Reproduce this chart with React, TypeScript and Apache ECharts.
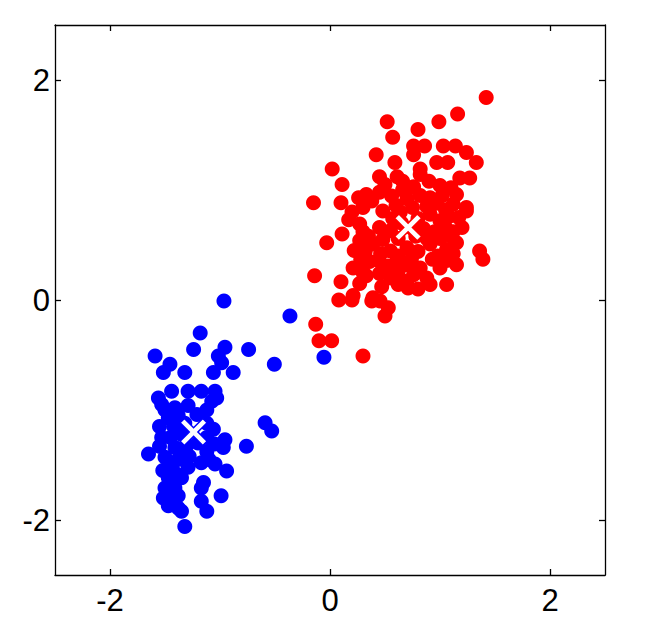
import React, { useEffect, useRef } from "react";
import * as echarts from "echarts";

const redPoints: [number, number][] = [
  [1.42, 1.84], [1.16, 1.69], [0.99, 1.62], [0.52, 1.62], [0.8, 1.55], [0.57, 1.48],
  [0.76, 1.4], [0.86, 1.4], [1.03, 1.4], [1.14, 1.4], [0.42, 1.32], [0.76, 1.32],
  [1.24, 1.34], [0.59, 1.25], [0.82, 1.19], [0.97, 1.25], [1.07, 1.25], [1.33, 1.25],
  [0.02, 1.19], [0.45, 1.12], [0.61, 1.12], [0.11, 1.05], [0.76, 1.03], [1.18, 1.11],
  [1.27, 1.11], [-0.15, 0.885], [0.1, 0.885], [0.17, 0.73], [0.82, 1.14], [1.0, 1.04],
  [0.26, 0.93], [0.33, 0.96], [0.56, 0.945], [0.91, 0.93], [1.15, 0.96], [1.24, 0.84],
  [1.12, 0.87], [0.27, 0.69], [0.48, 0.81], [0.91, 0.78], [1.17, 0.75], [1.2, 0.66],
  [1.15, 0.52], [1.36, 0.445], [1.39, 0.37], [0.27, 0.54], [0.39, 0.51], [0.55, 0.445],
  [0.7, 0.475], [0.91, 0.51], [1.06, 0.46], [0.21, 0.29], [0.36, 0.35], [0.52, 0.31],
  [0.7, 0.32], [0.82, 0.29], [1.0, 0.29], [1.15, 0.32], [0.55, 0.2], [0.7, 0.17],
  [0.88, 0.2], [0.91, 0.14], [1.06, 0.14], [0.39, 0.02], [0.21, 0.04], [-0.03, 0.52],
  [-0.14, 0.22], [0.1, 0.165], [0.08, 0.0], [0.2, 0.0], [0.38, -0.01], [0.455, -0.01],
  [0.53, -0.07], [0.5, -0.145], [-0.13, -0.22], [-0.1, -0.37], [0.015, -0.37], [0.3, -0.51],
  [0.33, 0.22], [0.71, 0.11], [1.24, 0.81], [0.11, 0.6],
  [0.45, 0.98], [0.66, 1.0], [0.7, 0.92], [0.82, 0.95], [1.02, 0.95], [0.97, 0.88],
  [0.3, 0.84], [0.6, 0.86], [0.75, 0.84], [0.88, 0.85], [1.05, 0.82], [0.57, 0.74],
  [0.64, 0.8], [0.8, 0.74], [1.0, 0.72], [1.08, 0.76], [0.3, 0.62], [0.45, 0.66],
  [0.55, 0.63], [0.85, 0.65], [0.95, 0.62], [1.05, 0.66], [1.12, 0.62], [0.35, 0.58],
  [0.48, 0.55], [0.62, 0.56], [0.78, 0.58], [0.88, 0.56], [1.0, 0.56], [1.1, 0.58],
  [0.22, 0.45], [0.32, 0.44], [0.46, 0.42], [0.62, 0.4], [0.8, 0.44], [0.98, 0.4],
  [1.12, 0.42], [0.28, 0.37], [0.44, 0.36], [0.6, 0.34], [0.74, 0.37], [0.93, 0.37],
  [1.06, 0.36], [0.3, 0.25], [0.45, 0.24], [0.62, 0.26], [0.76, 0.23], [0.27, 0.15],
  [0.47, 0.12], [0.62, 0.14], [0.8, 0.1], [0.5, 1.05], [0.66, 1.08], [0.9, 1.08],
  [1.1, 1.02], [0.38, 0.9], [0.2, 0.8], [0.65, 0.7], [0.75, 0.65],
];

const bluePoints: [number, number][] = [
  [-0.964, -0.01], [-0.364, -0.145], [-1.18, -0.3], [-0.055, -0.52], [-1.59, -0.51],
  [-1.24, -0.45], [-0.955, -0.43], [-0.74, -0.45], [-1.015, -0.51], [-1.455, -0.585],
  [-0.506, -0.585], [-1.515, -0.66], [-1.32, -0.66], [-1.06, -0.66], [-0.88, -0.66],
  [-0.985, -0.57], [-1.56, -0.89], [-1.44, -0.83], [-1.29, -0.83], [-1.17, -0.83],
  [-1.045, -0.83], [-1.03, -0.89], [-1.53, -0.95], [-1.41, -0.98], [-1.29, -0.96],
  [-1.075, -0.92], [-1.47, -1.07], [-1.21, -1.04], [-0.59, -1.115], [-0.53, -1.19],
  [-1.06, -1.175], [-0.955, -1.27], [-0.97, -1.34], [-0.76, -1.33], [-1.65, -1.4],
  [-1.53, -1.25], [-1.5, -1.43], [-1.44, -1.52], [-1.17, -1.48], [-1.045, -1.49],
  [-0.94, -1.555], [-1.29, -1.52], [-1.47, -1.615], [-1.35, -1.615], [-1.17, -1.71],
  [-1.5, -1.71], [-1.515, -1.8], [-1.47, -1.87], [-1.38, -1.89], [-1.35, -1.92],
  [-1.17, -1.83], [-1.12, -1.92], [-0.99, -1.78], [-1.32, -2.06], [-1.41, -1.34],
  [-1.35, -1.37], [-1.05, -1.31], [-1.41, -1.71], [-1.38, -1.78],
  [-1.5, -1.0], [-1.38, -1.05], [-1.12, -1.0], [-1.55, -1.15], [-1.42, -1.15],
  [-1.32, -1.12], [-1.12, -1.12], [-1.45, -1.25], [-1.35, -1.22], [-1.12, -1.25],
  [-1.55, -1.33], [-1.3, -1.32], [-1.2, -1.3], [-1.12, -1.38], [-1.38, -1.45],
  [-1.28, -1.42], [-1.1, -1.45], [-1.52, -1.55], [-1.4, -1.58], [-1.15, -1.66],
  [-1.45, -1.77],
];

const redCentroid: [number, number] = [0.71, 0.66];
const blueCentroid: [number, number] = [-1.24, -1.2];

const tickValues = [-2, 0, 2];

const FONT = "'Liberation Sans', Arial, Helvetica, sans-serif";
const CROSS =
  "path://M0,1.6 L1.6,0 L5,3.4 L8.4,0 L10,1.6 L6.6,5 L10,8.4 L8.4,10 L5,6.6 L1.6,10 L0,8.4 L3.4,5 Z";

function makeAxis(pos: string, showLabels: boolean, isX: boolean) {
  return {
    type: "value",
    position: pos,
    min: -2.5,
    max: 2.5,
    splitLine: { show: false },
    axisLine: { show: true, onZero: false, lineStyle: { color: "#000", width: 1.3 } },
    axisTick: {
      show: true,
      inside: true,
      length: 6,
      customValues: tickValues,
      lineStyle: { color: "#000", width: 1.3 },
    },
    axisLabel: {
      show: showLabels,
      customValues: tickValues,
      color: "#000",
      fontSize: 31,
      fontFamily: FONT,
      margin: isX ? 10 : 5,
    },
  };
}

export default function App() {
  const ref = useRef<HTMLDivElement>(null);
  useEffect(() => {
    if (!ref.current) return;
    const chart = echarts.init(ref.current, null, { renderer: "svg" });
    chart.setOption({
      animation: false,
      backgroundColor: "#fff",
      grid: { left: 55, right: 46, top: 25, bottom: 62, containLabel: false },
      xAxis: [makeAxis("bottom", true, true), makeAxis("top", false, true)],
      yAxis: [makeAxis("left", true, false), makeAxis("right", false, false)],
      series: [
        {
          type: "scatter",
          data: bluePoints,
          symbol: "circle",
          symbolSize: 15,
          itemStyle: { color: "#0000ff", opacity: 1 },
        },
        {
          type: "scatter",
          data: redPoints,
          symbol: "circle",
          symbolSize: 15,
          itemStyle: { color: "#ff0000", opacity: 1 },
        },
        {
          type: "scatter",
          data: [blueCentroid],
          symbol: CROSS,
          symbolSize: 27,
          z: 5,
          itemStyle: { color: "#ffffff", borderColor: "#0000ff", borderWidth: 1.5, opacity: 1 },
        },
        {
          type: "scatter",
          data: [redCentroid],
          symbol: CROSS,
          symbolSize: 27,
          z: 5,
          itemStyle: { color: "#ffffff", borderColor: "#ff0000", borderWidth: 1.5, opacity: 1 },
        },
      ],
    });
    return () => chart.dispose();
  }, []);
  return (
    <div
      ref={ref}
      style={{ position: "fixed", left: 0, top: 0, width: 651, height: 637, background: "#fff" }}
    />
  );
}
